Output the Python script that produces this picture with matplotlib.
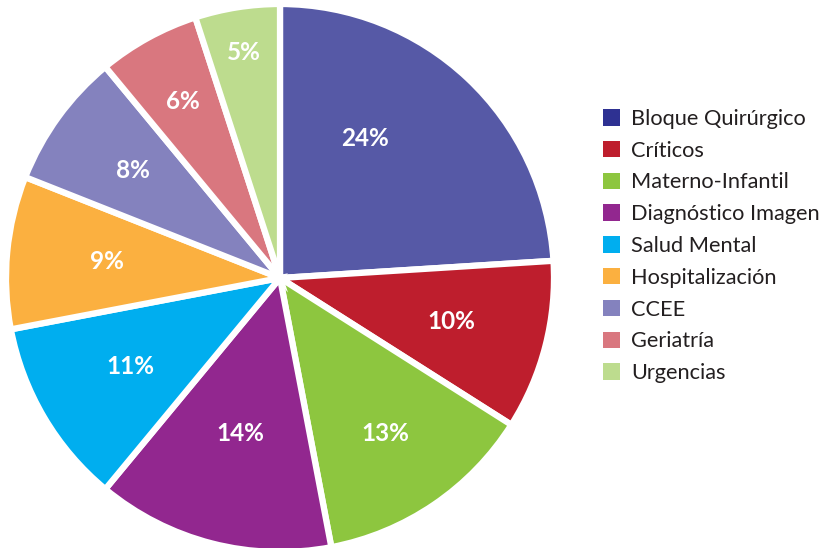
import numpy as np
import matplotlib.pyplot as plt
from matplotlib.patches import Patch

plt.rcParams['font.family'] = ['Lato', 'DejaVu Sans']

areas = ["Bloque Quirúrgico", "Críticos", "Materno-Infantil", "Diagnóstico Imagen",
         "Salud Mental", "Hospitalización", "CCEE", "Geriatría", "Urgencias"]
shares = [24, 10, 13, 14, 11, 9, 8, 6, 5]
slice_colors = ["#5659A6", "#BE1E2D", "#8DC63F", "#92278F", "#00AEEF",
                "#FBB040", "#8482BE", "#D9777F", "#BDDC8E"]
legend_colors = ["#2E3192"] + slice_colors[1:]

# where the % labels sit: fraction of the radius, and turn from the wedge middle (deg)
label_radius = [0.60, 0.65, 0.69, 0.59, 0.64, 0.64, 0.67, 0.74, 0.84]
label_turn = [12, 0, 0, 0, 0, 0, 0, 0, 0]

W, H = 823, 548
cx, cy, unit = 280, 278, 280
fig = plt.figure(figsize=(W / 100, H / 100), dpi=100)
ax = fig.add_axes([(cx - unit) / W, (H - cy - unit) / H, 2 * unit / W, 2 * unit / H])

wedges, texts, autotexts = ax.pie(
    shares, colors=slice_colors, startangle=90, counterclock=False,
    autopct=lambda p: f"{p:.0f}%", radius=274 / unit,
    wedgeprops=dict(edgecolor="white", linewidth=4.5),
    textprops=dict(color="white", fontsize=17.5, fontweight="bold"))
for w, t, rf, turn in zip(wedges, autotexts, label_radius, label_turn):
    ang = np.deg2rad((w.theta1 + w.theta2) / 2 + turn)
    r = rf * 272 / unit
    t.set_position((r * np.cos(ang), r * np.sin(ang)))
ax.set_xlim(-1, 1)
ax.set_ylim(-1, 1)
ax.set_aspect("equal")

handles = [Patch(facecolor=c, edgecolor="none") for c in legend_colors]
fig.legend(handles, areas, loc="center left", bbox_to_anchor=(603 / W, 1 - 246 / H),
           frameon=False, fontsize=15.7, borderpad=0, borderaxespad=0,
           handlelength=0.78, handleheight=0.78, handletextpad=0.5,
           labelspacing=0.54, labelcolor="#231F20")

fig.savefig("out.png", dpi=100)
